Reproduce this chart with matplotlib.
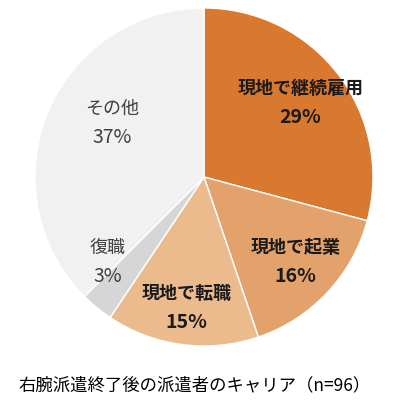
import numpy as np
import matplotlib
matplotlib.use("Agg")
import matplotlib.pyplot as plt

plt.rcParams['font.family'] = ['Noto Sans CJK JP', 'DejaVu Sans']

# data (counts out of n=96, shown as rounded percentages)
categories = ["現地で継続雇用", "現地で起業", "現地で転職", "復職", "その他"]
counts = [28, 15, 14, 3, 36]
pct_labels = ["29%", "16%", "15%", "3%", "37%"]
caption = "右腕派遣終了後の派遣者のキャリア（n=96）"

colors = ["#D9782F", "#E3A26B", "#EBBB8E", "#D6D6D6", "#F1F1F1"]
bold = [True, True, True, False, False]
label_r = [0.72, 0.74, 0.78, 0.76, 0.63]
label_nudge = [0, 0, 0, -9, -8]   # degrees

W, H = 396, 408
fig = plt.figure(figsize=(W / 100, H / 100), dpi=100)
# pie circle: center (204,177) px, radius 169 px
cx, cy, r = 204, 177, 169
ax = fig.add_axes([(cx - r) / W, (H - cy - r) / H, 2 * r / W, 2 * r / H])

wedges, _ = ax.pie(counts, colors=colors, startangle=90, counterclock=False,
                   radius=1.0, wedgeprops=dict(edgecolor="white", linewidth=1.0))
ax.set_xlim(-1, 1)
ax.set_ylim(-1, 1)
ax.axis("off")

half_gap = 14.5 / r  # half the distance between name and percentage lines
for w, name, pct, b, d, nd in zip(wedges, categories, pct_labels, bold, label_r, label_nudge):
    mid = np.deg2rad((w.theta1 + w.theta2) / 2 + nd)
    x, y = d * np.cos(mid), d * np.sin(mid)
    weight = "bold" if b else "normal"
    col = "#1a1a1a" if b else "#404040"
    ax.text(x, y + half_gap, name, ha="center", va="center",
            fontsize=13, fontweight=weight, color=col)
    ax.text(x, y - half_gap, pct, ha="center", va="center",
            fontsize=14, fontweight=weight, color=col)

fig.text(195 / W, 1 - 385 / H, caption, ha="center", va="center",
         fontsize=12.5, color="black")

fig.savefig("out.png", dpi=100)
